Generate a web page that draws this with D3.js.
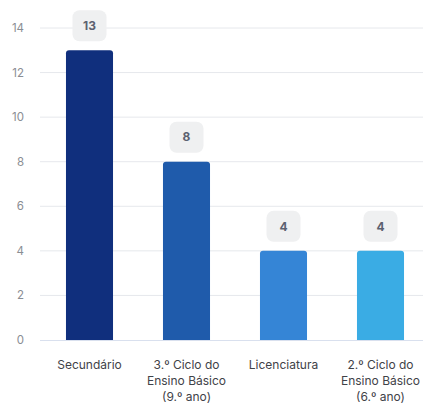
<!DOCTYPE html>
<html><head><meta charset="utf-8">
<script src="https://cdn.jsdelivr.net/npm/d3@7"></script>
<style>body{margin:0;background:#fff;font-family:Inter,"Noto Sans",sans-serif}</style>
</head><body><svg id="c" width="423" height="403"></svg>
<script>
const categories = [["Secundário"], ["3.º Ciclo do","Ensino Básico","(9.º ano)"], ["Licenciatura"], ["2.º Ciclo do","Ensino Básico","(6.º ano)"]];
const values = [13, 8, 4, 4];
const colors = ["#102f7d", "#1f5bab", "#3585d6", "#3aace4"];
const yTicks = [0, 2, 4, 6, 8, 10, 12, 14];

const svg = d3.select("#c");
const x = d3.scaleBand().domain(d3.range(values.length)).range([41, 429]).paddingInner(0.515).paddingOuter(0.2575);
const y = d3.scaleLinear().domain([0, 14]).range([340, 28]);

// grid
svg.append("g").selectAll("line").data(yTicks.filter(d => d > 0)).join("line")
  .attr("x1", 40).attr("x2", 423).attr("y1", d => y(d)).attr("y2", d => y(d))
  .attr("stroke", "#e6e8ec").attr("stroke-width", 1);
// y labels
svg.append("g").selectAll("text").data(yTicks).join("text")
  .attr("x", 24).attr("y", d => y(d)).attr("dy", "0.35em").attr("text-anchor", "end")
  .attr("font-size", 11.5).attr("fill", "#8a8d93").text(d => d);

// bars with rounded tops
const r = 3;
svg.append("g").selectAll("path").data(values).join("path")
  .attr("d", (d, i) => {
    const x0 = x(i), w = x.bandwidth(), y0 = y(d), y1 = y(0);
    return `M${x0},${y1}V${y0 + r}Q${x0},${y0} ${x0 + r},${y0}H${x0 + w - r}Q${x0 + w},${y0} ${x0 + w},${y0 + r}V${y1}Z`;
  })
  .attr("fill", (d, i) => colors[i]);

// axis line
svg.append("line").attr("x1", 40).attr("x2", 423).attr("y1", y(0) + 0.5).attr("y2", y(0) + 0.5)
  .attr("stroke", "#d9e0ee").attr("stroke-width", 1);

// value boxes
const bw = 34, bh = 31;
const lab = svg.append("g").selectAll("g").data(values).join("g")
  .attr("transform", (d, i) => `translate(${x(i) + x.bandwidth() / 2},${y(d) - 9 - bh})`);
lab.append("rect").attr("x", -bw / 2).attr("y", 0).attr("width", bw).attr("height", bh)
  .attr("rx", 7).attr("fill", "#eff0f1");
lab.append("text").attr("x", 0).attr("y", bh / 2).attr("dy", "0.35em").attr("text-anchor", "middle")
  .attr("font-size", 12).attr("font-weight", 700).attr("fill", "#5b6170").text(d => d);

// x labels
const xl = svg.append("g").selectAll("text").data(categories).join("text")
  .attr("text-anchor", "middle").attr("font-size", 12).attr("fill", "#3f4248")
  .attr("transform", (d, i) => `translate(${x(i) + x.bandwidth() / 2},369)`);
xl.selectAll("tspan").data(d => d).join("tspan")
  .attr("x", 0).attr("y", (d, j) => j * 16).text(d => d);
</script></body></html>
